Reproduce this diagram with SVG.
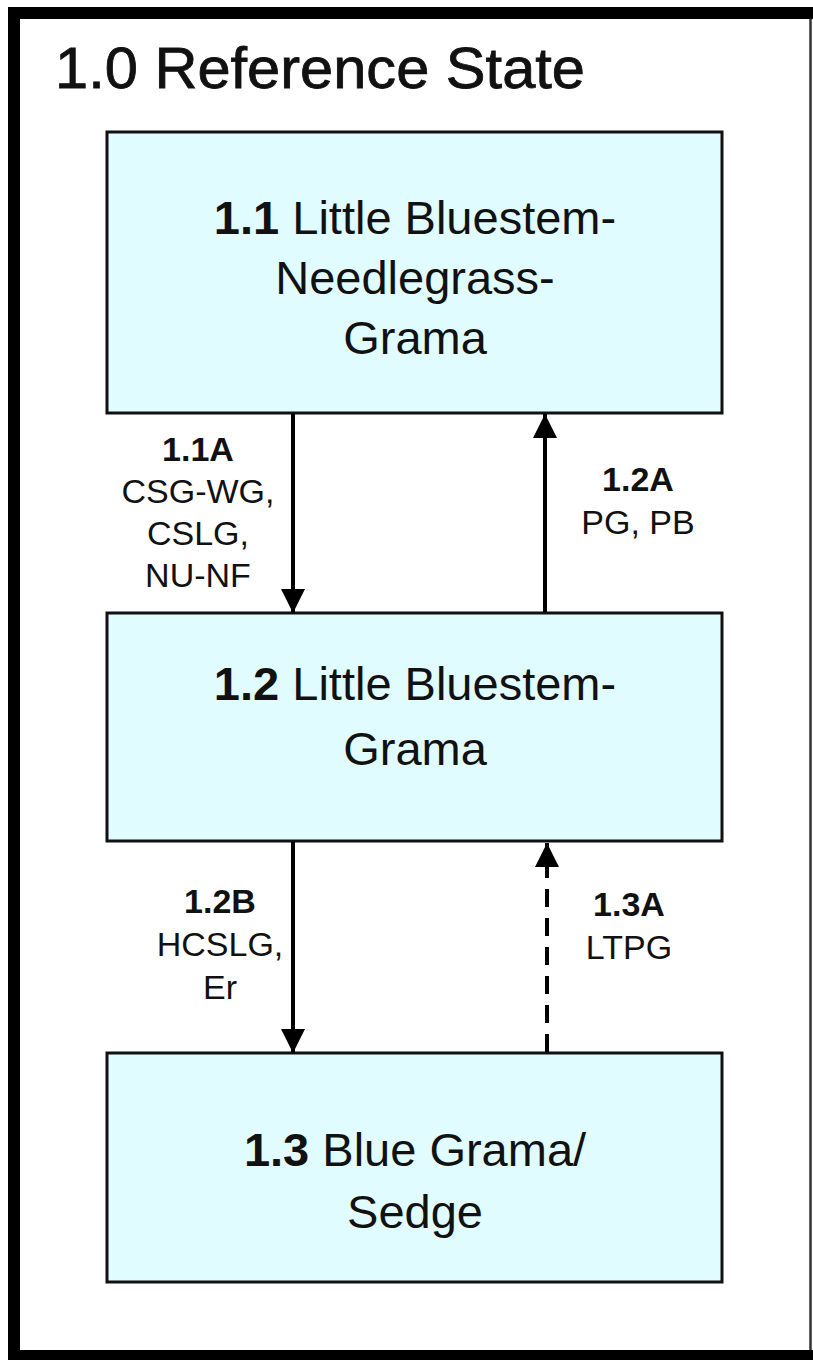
<svg xmlns="http://www.w3.org/2000/svg" width="813" height="1360" viewBox="0 0 813 1360">
  <style>
    .box { fill: #E0FCFE; stroke: #111; stroke-width: 3; }
    .nt { font-family: "Liberation Sans", Arial, sans-serif; font-size: 47px; fill: #111; text-anchor: middle; }
    .lb { font-family: "Liberation Sans", Arial, sans-serif; font-size: 34px; fill: #111; text-anchor: middle; }
    .b { font-weight: bold; }
    .conn { stroke: #000; stroke-width: 4; fill: none; }
    .dash { stroke-dasharray: 18 11; }
  </style>
  <defs>
    <marker id="ah" markerUnits="userSpaceOnUse" markerWidth="28" markerHeight="26" refX="24" refY="12" orient="auto">
      <path d="M0,0 L24,12 L0,24 Z" fill="#000"/>
    </marker>
  </defs>
  <rect x="0" y="0" width="813" height="1360" fill="#fff"/>
  <g id="frame">
    <path d="M813,13 L14,13 L14,1356 L813,1356" fill="none" stroke="#000" stroke-width="12"/>
    <line x1="810.5" y1="19" x2="810.5" y2="1350" stroke="#333" stroke-width="2.5"/>
  </g>
  <text id="title" x="55" y="88" font-family="Liberation Sans, Arial, sans-serif" font-size="57" fill="#111" stroke="#111" stroke-width="0.8" textLength="530" lengthAdjust="spacingAndGlyphs">1.0 Reference State</text>

  <g id="n11">
    <rect class="box" x="107" y="132" width="615" height="281"/>
    <text class="nt" x="415" y="234"><tspan class="b">1.1</tspan> Little Bluestem-</text>
    <text class="nt" x="415" y="294">Needlegrass-</text>
    <text class="nt" x="415" y="354">Grama</text>
  </g>
  <g id="n12">
    <rect class="box" x="107" y="613" width="615" height="228"/>
    <text class="nt" x="415" y="700"><tspan class="b">1.2</tspan> Little Bluestem-</text>
    <text class="nt" x="415" y="765">Grama</text>
  </g>
  <g id="n13">
    <rect class="box" x="107" y="1053" width="615" height="229"/>
    <text class="nt" x="415" y="1166"><tspan class="b">1.3</tspan> Blue Grama/</text>
    <text class="nt" x="415" y="1228">Sedge</text>
  </g>

  <g id="connectors">
    <line class="conn" x1="293" y1="414" x2="293" y2="613" marker-end="url(#ah)"/>
    <line class="conn" x1="545" y1="612" x2="545" y2="414" marker-end="url(#ah)"/>
    <line class="conn" x1="293" y1="842" x2="293" y2="1053" marker-end="url(#ah)"/>
    <line class="conn dash" x1="547" y1="1052" x2="547" y2="843" marker-end="url(#ah)"/>
  </g>

  <g id="labels">
    <text class="lb b" x="198" y="461">1.1A</text>
    <text class="lb" x="198" y="503">CSG-WG,</text>
    <text class="lb" x="198" y="545">CSLG,</text>
    <text class="lb" x="198" y="587">NU-NF</text>
    <text class="lb b" x="638" y="491">1.2A</text>
    <text class="lb" x="638" y="534">PG, PB</text>
    <text class="lb b" x="220" y="913">1.2B</text>
    <text class="lb" x="220" y="956">HCSLG,</text>
    <text class="lb" x="220" y="999">Er</text>
    <text class="lb b" x="629" y="916">1.3A</text>
    <text class="lb" x="629" y="959">LTPG</text>
  </g>
</svg>
